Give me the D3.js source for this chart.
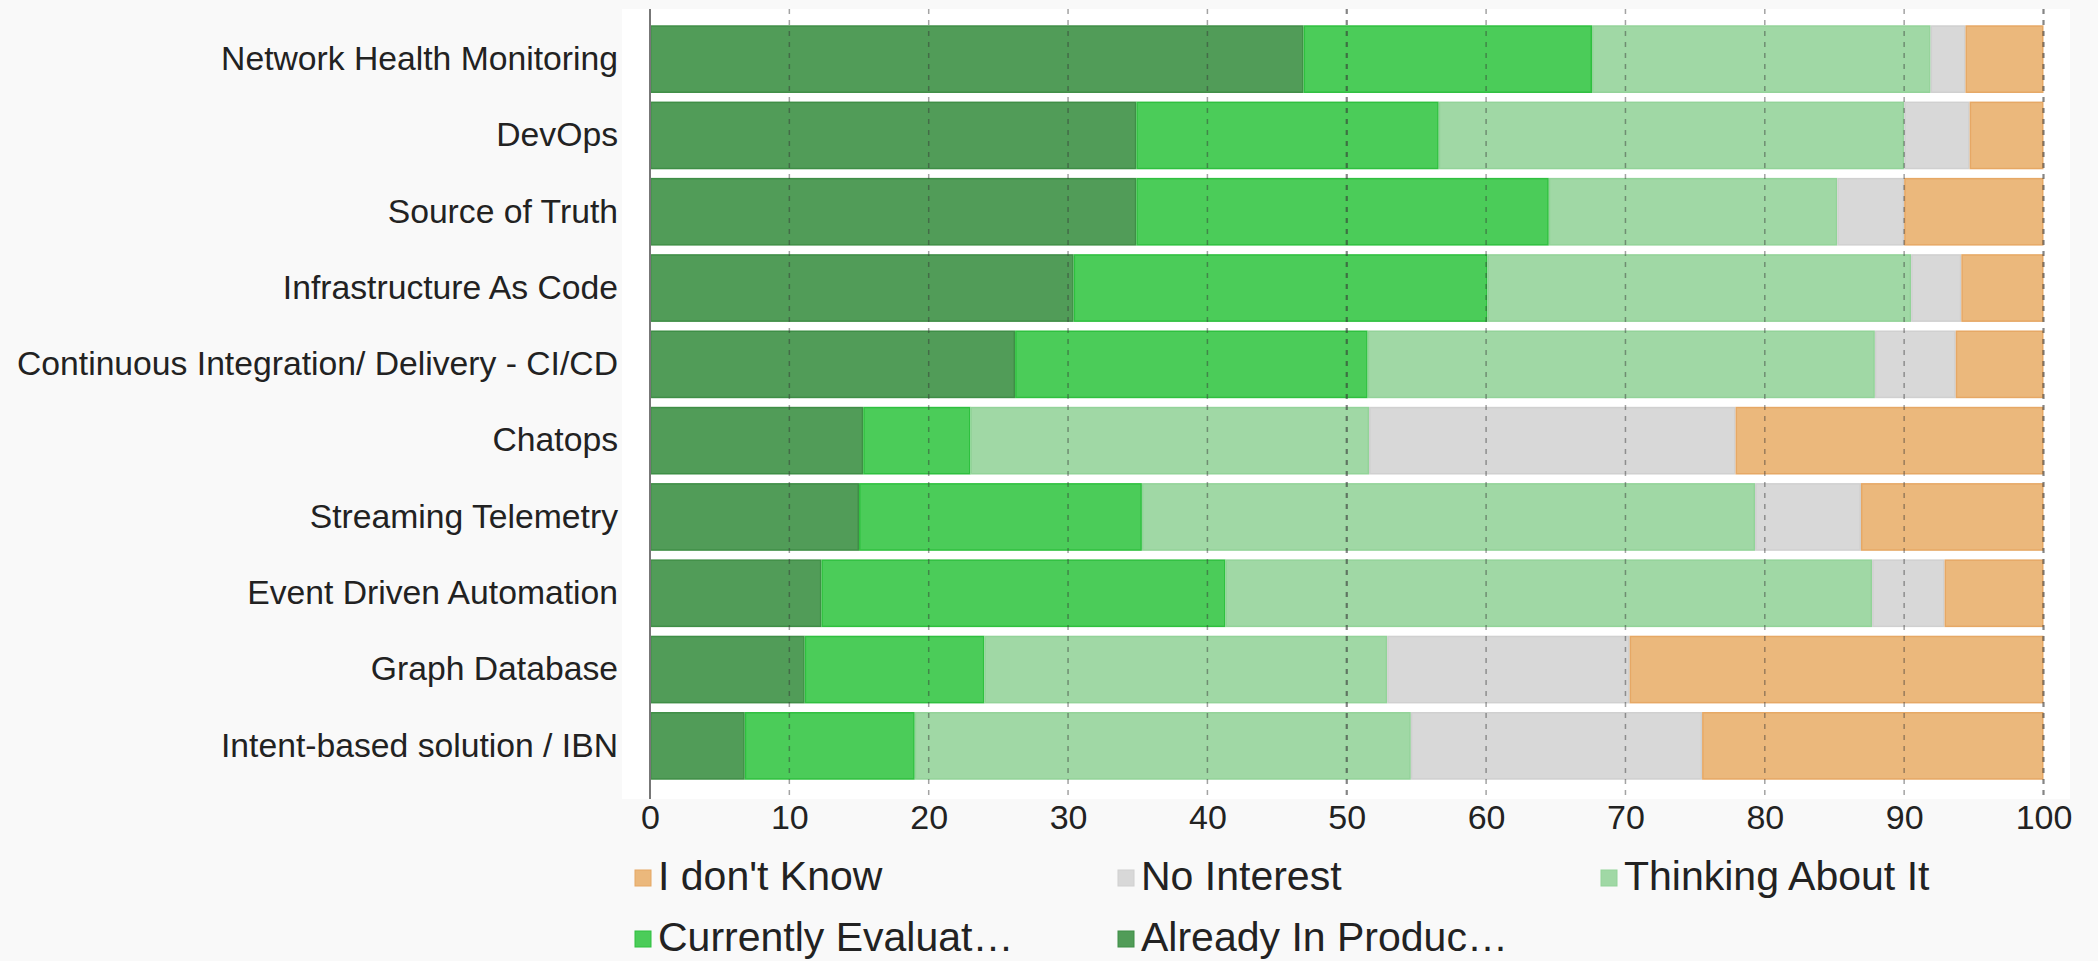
<!DOCTYPE html>
<html>
<head>
<meta charset="utf-8">
<script src="https://cdn.jsdelivr.net/npm/d3@7"></script>
<style>
html, body { margin: 0; padding: 0; background: #f9f9f9; }
svg { display: block; font-family: "Liberation Sans", Arial, Helvetica, sans-serif; }
</style>
</head>
<body>
<svg id="chart" width="2098" height="961"></svg>
<script>
// ---- data ----
const categories = [
  "Network Health Monitoring",
  "DevOps",
  "Source of Truth",
  "Infrastructure As Code",
  "Continuous Integration/ Delivery - CI/CD",
  "Chatops",
  "Streaming Telemetry",
  "Event Driven Automation",
  "Graph Database",
  "Intent-based solution / IBN"
];
const seriesKeys = ["Already In Production", "Currently Evaluating", "Thinking About It", "No Interest", "I don't Know"];
const alreadyInProduction = [46.9, 34.9, 34.9, 30.4, 26.2, 15.3, 15.0, 12.3, 11.1, 6.8];
const currentlyEvaluating = [20.7, 21.7, 29.6, 29.7, 25.3, 7.7, 20.3, 29.0, 12.9, 12.2];
const thinkingAboutIt     = [24.3, 33.4, 20.7, 30.4, 36.4, 28.6, 44.0, 46.4, 28.9, 35.6];
const noInterest          = [2.5, 4.7, 4.8, 3.6, 5.8, 26.3, 7.6, 5.2, 17.4, 20.9];
const dontKnow            = [5.6, 5.3, 10.0, 5.9, 6.3, 22.1, 13.1, 7.1, 29.7, 24.5];
const xTicks = [0, 10, 20, 30, 40, 50, 60, 70, 80, 90, 100];
const legendOrder = ["I don't Know", "No Interest", "Thinking About It", "Currently Evaluating", "Already In Production"];
const legendLabels = ["I don't Know", "No Interest", "Thinking About It", "Currently Evaluat\u2026", "Already In Produc\u2026"];

// ---- styles ----
const fills = {
  "Already In Production": "#519c58",
  "Currently Evaluating": "#4bcc59",
  "Thinking About It": "#a0d8a5",
  "No Interest": "#d8d8d8",
  "I don't Know": "#ebb87c"
};
const strokes = {
  "Already In Production": "#3f8e46",
  "Currently Evaluating": "#2fc03f",
  "Thinking About It": "#93d399",
  "No Interest": "#d0d0d0",
  "I don't Know": "#e6a865"
};

const table = categories.map((c, i) => ({
  category: c,
  "Already In Production": alreadyInProduction[i],
  "Currently Evaluating": currentlyEvaluating[i],
  "Thinking About It": thinkingAboutIt[i],
  "No Interest": noInterest[i],
  "I don't Know": dontKnow[i]
}));

const svg = d3.select("#chart");

const plotLeft = 622, plotRight = 2070, plotTop = 9, plotBottom = 799;

const x = d3.scaleLinear().domain([0, 100]).range([650, 2043.5]);
const y = d3.scaleBand().domain(categories).range([12, 793]).paddingInner(0.1127).paddingOuter(0.174);

// plot background
svg.append("rect")
  .attr("x", plotLeft).attr("y", plotTop)
  .attr("width", plotRight - plotLeft).attr("height", plotBottom - plotTop)
  .attr("fill", "#ffffff");

// stacked bars
const stacked = d3.stack().keys(seriesKeys)(table);
svg.append("g").selectAll("g")
  .data(stacked)
  .join("g")
  .attr("fill", d => fills[d.key])
  .attr("stroke", d => strokes[d.key])
  .attr("stroke-width", 1.5)
  .selectAll("rect")
  .data(d => d)
  .join("rect")
  .attr("x", d => x(d[0]) + 0.75)
  .attr("y", d => y(d.data.category) + 0.75)
  .attr("width", d => Math.max(0, x(d[1]) - x(d[0]) - 1.5))
  .attr("height", y.bandwidth() - 1.5);

// gridlines (drawn over bars)
svg.append("g").selectAll("line")
  .data(xTicks.filter(t => t > 0))
  .join("line")
  .attr("x1", d => x(d)).attr("x2", d => x(d))
  .attr("y1", plotTop).attr("y2", plotBottom)
  .attr("stroke", "#333")
  .attr("stroke-opacity", d => (d === 50 || d === 100) ? 0.6 : 0.45)
  .attr("stroke-width", d => (d === 50 || d === 100) ? 2.2 : 1.5)
  .attr("stroke-dasharray", "5,6");

// zero axis line
svg.append("line")
  .attr("x1", x(0)).attr("x2", x(0))
  .attr("y1", plotTop).attr("y2", plotBottom)
  .attr("stroke", "#777").attr("stroke-width", 2);

// x axis labels
const xAxis = svg.append("g")
  .attr("transform", `translate(0,${plotBottom})`)
  .call(d3.axisBottom(x).tickValues(xTicks).tickSize(0).tickPadding(6).tickFormat(d3.format("d")));
xAxis.select(".domain").remove();
xAxis.selectAll("text")
  .attr("fill", "#222")
  .style("font-size", "34px")
  .style("font-family", "'Liberation Sans', Arial, Helvetica, sans-serif");

// y axis labels
const yAxis = svg.append("g")
  .attr("transform", `translate(${x(0)},0)`)
  .call(d3.axisLeft(y).tickSize(0).tickPadding(32));
yAxis.select(".domain").remove();
yAxis.selectAll("text")
  .attr("fill", "#222")
  .style("font-size", "33.7px")
  .style("font-family", "'Liberation Sans', Arial, Helvetica, sans-serif");

// legend
const legendCols = [635, 1118, 1601];
const legendRows = [870, 931];
const legend = svg.append("g");
legendOrder.forEach((key, i) => {
  const cx = legendCols[i % 3];
  const ry = legendRows[Math.floor(i / 3)];
  legend.append("rect")
    .attr("x", cx).attr("y", ry)
    .attr("width", 16).attr("height", 16)
    .attr("fill", fills[key])
    .attr("stroke", strokes[key]).attr("stroke-width", 1);
  legend.append("text")
    .attr("x", cx + 23).attr("y", ry + 20)
    .attr("fill", "#222")
    .style("font-size", "41px")
    .text(legendLabels[i]);
});
</script>
</body>
</html>
